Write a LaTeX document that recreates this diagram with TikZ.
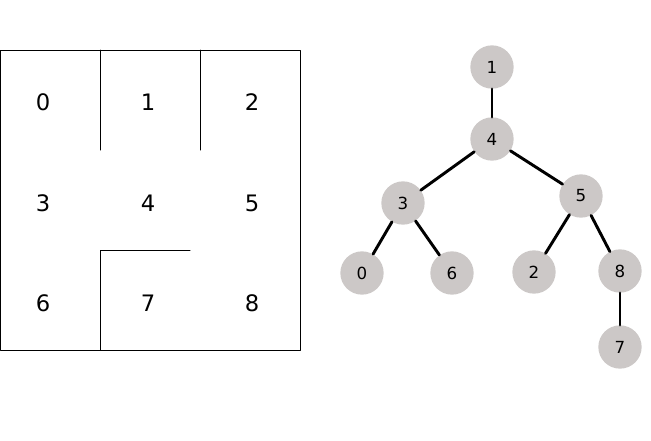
\documentclass[tikz,border=0pt]{standalone}
\usepackage{fontspec}
\setmainfont{DejaVu Sans}
\usetikzlibrary{positioning}
\definecolor{nodegray}{RGB}{204,200,199}

\begin{document}
\begin{tikzpicture}[x=0.75pt,y=-0.75pt,line cap=round,line join=round,
    cell/.style={font=\fontsize{17}{20}\selectfont},
    state/.style={circle,fill=nodegray,minimum size=32.5pt,inner sep=0pt,font=\fontsize{12.5}{14}\selectfont},
    edge/.style={line width=2.2pt}]
  \useasboundingbox (0,0) rectangle (651,440);
  % maze
  \draw[line width=0.75pt] (0.5,50.5) rectangle (300,350);
  \draw[line width=0.75pt] (100,50) -- (100,150);
  \draw[line width=0.75pt] (200,50) -- (200,150);
  \draw[line width=0.75pt] (100,350) -- (100,250) -- (190,250);
  \node[cell] (c0) at (43,102) {0};
  \node[cell] (c1) at (148,102) {1};
  \node[cell] (c2) at (252,102) {2};
  \node[cell] (c3) at (43,203) {3};
  \node[cell] (c4) at (148,203) {4};
  \node[cell] (c5) at (252,203) {5};
  \node[cell] (c6) at (43,303) {6};
  \node[cell] (c7) at (148,303) {7};
  \node[cell] (c8) at (252,303) {8};
  % search tree
  \node[state] (t1) at (492,67) {1};
  \node[state] (t4) at (492,139) {4};
  \node[state] (t3) at (403,203) {3};
  \node[state] (t5) at (581,196) {5};
  \node[state] (t0) at (362,273) {0};
  \node[state] (t6) at (452,273) {6};
  \node[state] (t2) at (534,272) {2};
  \node[state] (t8) at (620,271) {8};
  \node[state] (t7) at (620,347) {7};
  \draw[edge] (t1) -- (t4);
  \draw[edge] (t4) -- (t3);
  \draw[edge] (t4) -- (t5);
  \draw[edge] (t3) -- (t0);
  \draw[edge] (t3) -- (t6);
  \draw[edge] (t5) -- (t2);
  \draw[edge] (t5) -- (t8);
  \draw[edge] (t8) -- (t7);
\end{tikzpicture}
\end{document}
